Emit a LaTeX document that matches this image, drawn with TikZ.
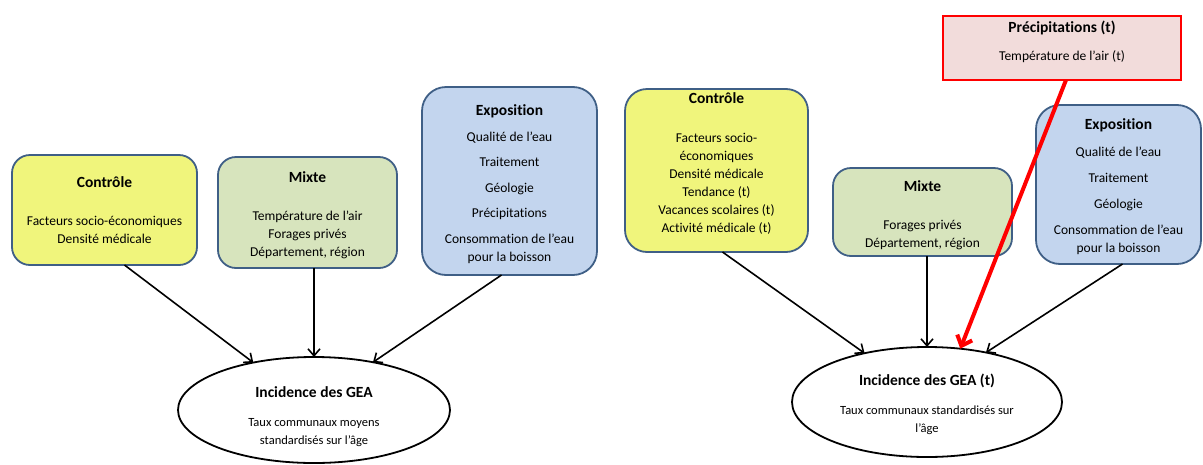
\documentclass[tikz,border=0pt]{standalone}
\usepackage{fontspec}
\setmainfont{Carlito}[Ligatures=NoCommon]
\usetikzlibrary{arrows.meta,calc,shapes.geometric}
\definecolor{ctrl}{HTML}{F0F57C}
\definecolor{mix}{HTML}{D7E4BD}
\definecolor{expo}{HTML}{C3D5EE}
\definecolor{pinkfill}{HTML}{F2DCDB}
\definecolor{edge}{HTML}{3F5F86}
\newcommand\boxttl[1]{{\fontsize{15.5}{18}\selectfont\bfseries #1}}
\tikzset{
  box/.style={draw=edge, line width=1.8pt, rounded corners=18pt, inner sep=0pt, outer sep=0pt,
    align=center, font=\fontsize{13.5}{18}\selectfont},
  ctrlbox/.style={box, fill=ctrl},
  mixbox/.style={box, fill=mix},
  expobox/.style={box, fill=expo, rounded corners=24pt},
  redbox/.style={draw=red, line width=2.2pt, fill=pinkfill, inner sep=0pt, outer sep=0pt,
    align=center, font=\fontsize{13.5}{18}\selectfont},
  outcome/.style={ellipse, draw=black, line width=1.8pt, fill=white, inner sep=0pt, outer sep=0pt,
    align=center, font=\fontsize{12.5}{18}\selectfont},
  arr/.style={draw=black, line width=1.6pt, -{Straight Barb[length=7pt,width=12pt]}},
  redarr/.style={draw=red, line width=4pt, -{Straight Barb[length=9pt,width=16pt]}},
}
\begin{document}
\begin{tikzpicture}[x=1pt,y=-1pt]
\useasboundingbox (0,0) rectangle (1203,464);
% left diagram
\node[ctrlbox, minimum width=185pt, minimum height=110pt] (c1) at (104.5,210)
  {\boxttl{Contrôle}\\[20pt]Facteurs socio-économiques\\Densité médicale};
\node[mixbox, minimum width=179pt, minimum height=111pt] (m1) at (307.5,212.5)
  {\mbox{}\\[-2.5pt]\boxttl{Mixte}\\[20pt]Température de l’air\\Forages privés\\Département, région};
\node[expobox, minimum width=175pt, minimum height=188pt] (x1) at (509.5,181)
  {\mbox{}\\[-1pt]\boxttl{Exposition}\\[8pt]Qualité de l’eau\\[7.5pt]Traitement\\[7.5pt]Géologie\\[7.5pt]Précipitations\\[7.5pt]Consommation de l’eau\\pour la boisson};
\node[outcome, minimum width=272pt, minimum height=106pt] (e1) at (314,410)
  {\mbox{}\\[6pt]{\fontsize{15.5}{18}\selectfont\bfseries Incidence des GEA}\\[11pt]Taux communaux moyens\\standardisés sur l’âge};
% right diagram
\node[ctrlbox, rounded corners=22pt, minimum width=183pt, minimum height=163pt] (c2) at (716.5,170.5)
  {\boxttl{Contrôle}\\[21pt]Facteurs socio-\\économiques\\Densité médicale\\Tendance (t)\\Vacances scolaires (t)\\Activité médicale (t)\\[-2pt]\mbox{}};
\node[mixbox, minimum width=179pt, minimum height=88pt] (m2) at (922.5,212)
  {\mbox{}\\\boxttl{Mixte}\\[20pt]Forages privés\\Département, région};
\node[expobox, minimum width=165pt, minimum height=159pt] (x2) at (1118.5,184.5)
  {\mbox{}\\[-3pt]\boxttl{Exposition}\\[9pt]Qualité de l’eau\\[8pt]Traitement\\[8pt]Géologie\\[8pt]Consommation de l’eau\\pour la boisson};
\node[redbox, minimum width=238pt, minimum height=64pt] (r) at (1062,48)
  {\boxttl{Précipitations (t)}\\[10pt]Température de l’air (t)\\[-4pt]\mbox{}};
\node[outcome, minimum width=270pt, minimum height=110pt] (e2) at (927,402)
  {\mbox{}\\[-2pt]{\fontsize{15.5}{18}\selectfont\bfseries Incidence des GEA (t)}\\[11pt]Taux communaux standardisés sur\\l’âge};
% connectors
\draw[arr] ($(c1.south)+(20,0)$) -- (e1.142);
\draw[arr] (m1.south -| e1.north) -- (e1.north);
\draw[arr] ($(x1.south)+(-8,0)$) -- (e1.39);
\draw[arr] ($(c2.south)+(6,0)$) -- (e2.142);
\draw[arr] (m2.south -| e2.north) -- (e2.north);
\draw[arr] ($(x2.south)+(4,0)$) -- (e2.40);
\draw[redarr] ($(r.south)+(4,0)$) -- (e2.58);
\end{tikzpicture}
\end{document}
